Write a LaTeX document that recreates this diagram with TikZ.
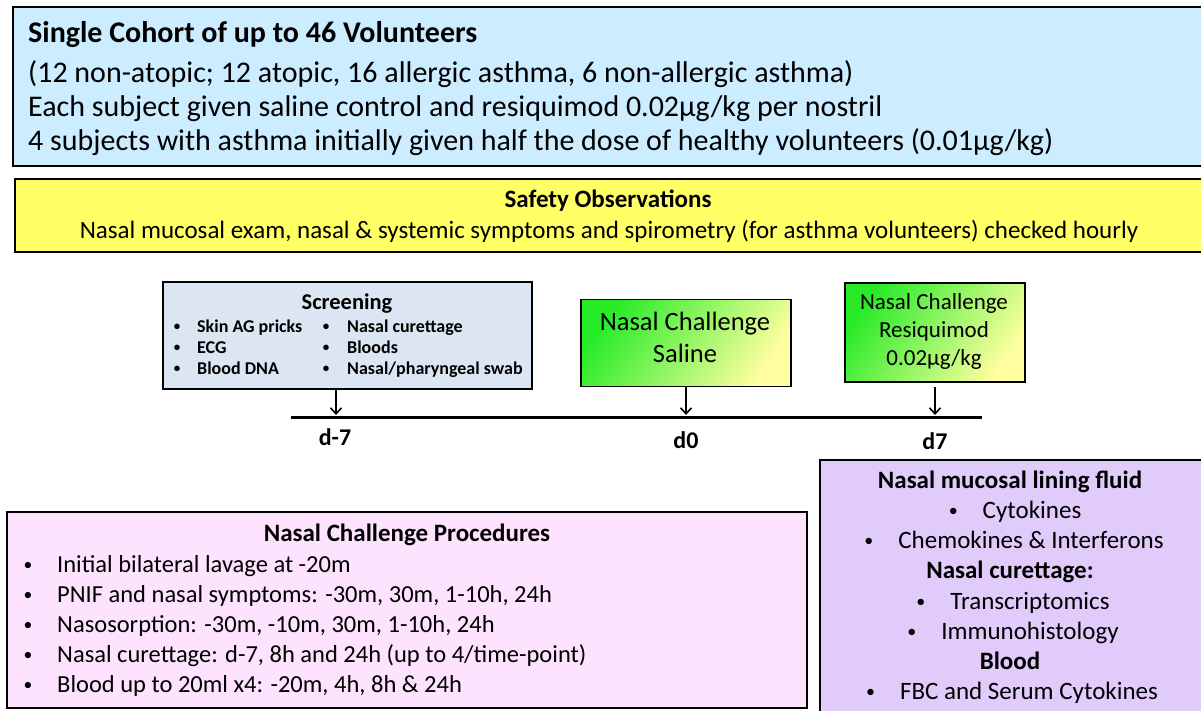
\documentclass[tikz,border=0pt]{standalone}
\usepackage{fontspec}
\setmainfont{Carlito}
\usetikzlibrary{arrows.meta}
\definecolor{topblue}{RGB}{204,236,255}
\definecolor{safeyel}{RGB}{255,255,102}
\definecolor{scrblue}{RGB}{220,230,242}
\definecolor{pinkbox}{RGB}{253,227,253}
\definecolor{purbox}{RGB}{224,203,250}
\definecolor{gstart}{RGB}{40,235,40}
\definecolor{gend}{RGB}{255,255,160}
\newcommand{\smbul}{\raisebox{0.09em}{\scalebox{0.72}{•}}}
\tikzset{
  box/.style={draw=black, line width=1.8pt, inner sep=0pt, outer sep=0pt},
  gbox/.style={box, left color=gstart, right color=gend, shading angle=55},
  lbl/.style={inner sep=0pt, anchor=base},
  lblw/.style={inner sep=0pt, anchor=base west},
  fs/.style={font=\fontsize{#1}{#1}\selectfont, yshift={-0.3*#1 pt}},
  fsb/.style={font=\fontsize{#1}{#1}\selectfont\bfseries, yshift={-0.3*#1 pt}},
  timeline/.style={line width=3pt},
  tick/.style={line width=1.3pt, -{Straight Barb[length=6pt,width=11pt,line width=1.6pt]}},
}
\begin{document}
\begin{tikzpicture}[x=1pt,y=-1pt]
\useasboundingbox (0,0) rectangle (1201,711);
% top box
\node[box, fill=topblue, minimum width=1190pt, minimum height=159pt] (cohort) at (608,86.5) {};
\node[lblw, fsb=30] (c1) at (28,34) {Single Cohort of up to 46 Volunteers};
\node[lblw, fs=30] (c2) at (28,74) {(12 non-atopic; 12 atopic, 16 allergic asthma, 6 non-allergic asthma)};
\node[lblw, fs=30] (c3) at (28,108) {Each subject given saline control and resiquimod 0.02µg/kg per nostril};
\node[lblw, fs=30] (c4) at (28,142) {4 subjects with asthma initially given half the dose of healthy volunteers (0.01µg/kg)};
% safety
\node[box, fill=safeyel, minimum width=1188pt, minimum height=73pt] (safety) at (609,215.5) {};
\node[lbl, fsb=25] (s1) at (608,200) {Safety Observations};
\node[lbl, fs=25] (s2) at (609,231) {Nasal mucosal exam, nasal \& systemic symptoms and spirometry (for asthma volunteers) checked hourly};
% screening
\node[box, fill=scrblue, minimum width=369pt, minimum height=107pt] (scr) at (347.5,335.5) {};
\node[lbl, fsb=22.5] (scrt) at (347,303) {Screening};
\foreach \y/\a/\b [count=\i] in {327/Skin AG pricks/Nasal curettage, 348/ECG/Bloods, 369/Blood DNA/Nasal\slash pharyngeal swab}{
  \node[lbl, fsb=18] (sba\i) at (177,\y) {\smbul};
  \node[lblw, fsb=18] (sa\i) at (197,\y) {\a};
  \node[lbl, fsb=18] (sbb\i) at (326,\y) {\smbul};
  \node[lblw, fsb=18] (sb\i) at (347,\y) {\b};
}
% saline
\node[gbox, minimum width=210pt, minimum height=87pt] (sal) at (686,343) {};
\node[lbl, fs=26.5] (sal1) at (685,323) {Nasal Challenge};
\node[lbl, fs=26.5] (sal2) at (685,355) {Saline};
% resiquimod
\node[gbox, minimum width=180pt, minimum height=99pt] (res) at (935,332.5) {};
\node[lbl, fs=23] (r1) at (934,303) {Nasal Challenge};
\node[lbl, fs=23] (r2) at (934,331) {Resiquimod};
\node[lbl, fs=23] (r3) at (934,359) {0.02µg/kg};
% timeline
\coordinate (tl0) at (291,417);
\coordinate (tl1) at (982,417);
\draw[timeline] (tl0) -- (tl1);
\coordinate (a7) at (336,415);
\coordinate (a0) at (686,415);
\coordinate (ap7) at (935,415);
\draw[tick] (scr.south -| a7) -- (a7);
\draw[tick] (sal.south -| a0) -- (a0);
\draw[tick] ([yshift=-5pt]res.south -| ap7) -- (ap7);
\node[lbl, fsb=24] (d1) at (335,438) {d-7};
\node[lbl, fsb=24] (d2) at (686,441) {d0};
\node[lbl, fsb=24] (d3) at (935,442) {d7};
% pink
\node[box, fill=pinkbox, minimum width=800pt, minimum height=196pt] (proc) at (407,610) {};
\node[lbl, fsb=25] (pt) at (407,534) {Nasal Challenge Procedures};
\foreach \y/\t [count=\i] in {565/Initial bilateral lavage at -20m, 595/{PNIF and nasal symptoms: -30m, 30m, 1-10h, 24h}, 625/{Nasosorption: -30m, -10m, 30m, 1-10h, 24h}, 655/{Nasal curettage: d-7, 8h and 24h (up to 4/time-point)}, 685/{Blood up to 20ml x4: -20m, 4h, 8h \& 24h}}{
  \node[lbl, fs=24.5] (pb\i) at (28,\y) {\smbul};
  \node[lblw, fs=24.5] (pi\i) at (57,\y) {\t};
}
% purple
\node[box, fill=purbox, minimum width=400pt, minimum height=270pt] (out) at (1020,595) {};
\node[lbl, fsb=25] (o1) at (1010,481) {Nasal mucosal lining fluid};
\node[lbl, fs=25] (o2) at (1015,511) {\smbul\hspace{25pt}Cytokines};
\node[lbl, fs=25] (o3) at (1014,541) {\smbul\hspace{25pt}Chemokines \& Interferons};
\node[lbl, fsb=25] (o4) at (1010,571) {Nasal curettage:};
\node[lbl, fs=25] (o5) at (1013,602) {\smbul\hspace{25pt}Transcriptomics};
\node[lbl, fs=25] (o6) at (1013,632) {\smbul\hspace{25pt}Immunohistology};
\node[lbl, fsb=25] (o7) at (1010,662) {Blood};
\node[lbl, fs=25] (o8) at (1012,692) {\smbul\hspace{25pt}FBC and Serum Cytokines};
\end{tikzpicture}
\end{document}
